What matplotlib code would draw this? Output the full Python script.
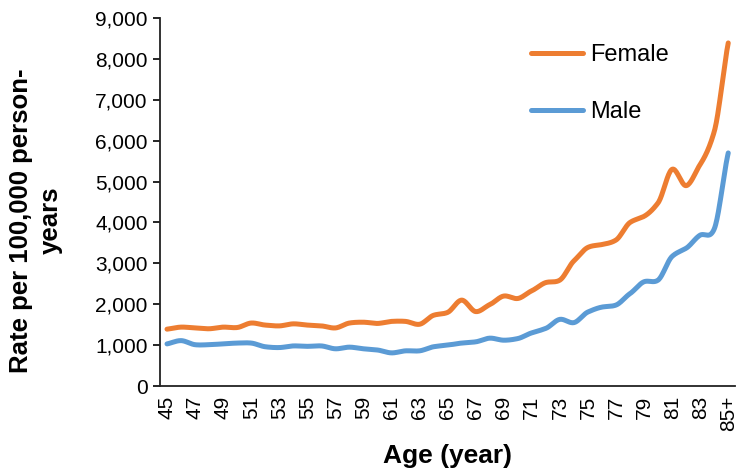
import numpy as np
import matplotlib
matplotlib.use("Agg")
import matplotlib.pyplot as plt
from matplotlib.ticker import FuncFormatter

plt.rcParams['font.family'] = ['Liberation Sans', 'DejaVu Sans']

ages = [str(a) for a in range(45, 85)] + ["85+"]
female = [1390, 1440, 1420, 1400, 1440, 1430, 1540, 1490, 1470, 1520,
          1490, 1470, 1420, 1540, 1560, 1530, 1580, 1580, 1510, 1730,
          1800, 2100, 1820, 1990, 2200, 2140, 2330, 2530, 2590, 3060,
          3390, 3460, 3570, 4000, 4150, 4480, 5300, 4900, 5420, 6220, 8390]
male = [1030, 1110, 1010, 1010, 1030, 1050, 1050, 960, 940, 980,
        970, 980, 910, 950, 910, 880, 810, 860, 860, 960,
        1000, 1050, 1080, 1170, 1120, 1160, 1300, 1410, 1630, 1550,
        1810, 1930, 1980, 2260, 2550, 2590, 3170, 3370, 3690, 3840, 5700]
series_names = ["Female", "Male"]
colors = ["#ED7D31", "#5B9BD5"]


def smooth(y, n=20):
    y = np.asarray(y, float)
    x = np.arange(len(y), dtype=float)
    p = np.concatenate([[2 * y[0] - y[1]], y, [2 * y[-1] - y[-2]]])
    xs, ys = [], []
    for i in range(len(y) - 1):
        p0, p1, p2, p3 = p[i], p[i + 1], p[i + 2], p[i + 3]
        t = np.linspace(0, 1, n, endpoint=False)
        m1 = (p2 - p0) / 2 * 0.8
        m2 = (p3 - p1) / 2 * 0.8
        h00 = 2 * t**3 - 3 * t**2 + 1
        h10 = t**3 - 2 * t**2 + t
        h01 = -2 * t**3 + 3 * t**2
        h11 = t**3 - t**2
        ys.append(h00 * p1 + h10 * m1 + h01 * p2 + h11 * m2)
        xs.append(x[i] + t)
    xs.append([x[-1]])
    ys.append([y[-1]])
    return np.concatenate(xs), np.concatenate(ys)


fig = plt.figure(figsize=(7.36, 4.74), dpi=100)
ax = fig.add_axes([160 / 736, 1 - 386 / 474, 1 - 160 / 736 - 0.001, (386 - 18) / 474])

for vals, name, c in zip([female, male], series_names, colors):
    xs, ys = smooth(vals)
    ax.plot(xs, ys, color=c, lw=3.6, label=name, solid_capstyle='round')

ax.set_xlim(-0.5, len(ages) - 0.5)
ax.set_ylim(0, 9000)
ax.set_yticks(np.arange(0, 9001, 1000))
ax.yaxis.set_major_formatter(FuncFormatter(lambda v, p: f"{int(v):,}"))
ax.set_xticks(np.arange(0, len(ages), 2))
ax.set_xticklabels(ages[::2], rotation=90)
ax.tick_params(axis='y', labelsize=15, length=5, width=1.2, direction='out', pad=4)
ax.tick_params(axis='x', labelsize=15, length=0, pad=7)
for s in ['top', 'right']:
    ax.spines[s].set_visible(False)
for s in ['left', 'bottom']:
    ax.spines[s].set_linewidth(1.3)
    ax.spines[s].set_color('#222222')

ax.set_xlabel("Age (year)", fontsize=19, fontweight='bold', labelpad=9)
ax.set_ylabel("Rate per 100,000 person-\nyears", fontsize=18.5, fontweight='bold',
              linespacing=1.3)
ax.yaxis.set_label_coords(-(160 - 63) / 576, 0.45)

leg = ax.legend(loc='upper left', bbox_to_anchor=((520 - 160) / 576, 1 - (32 - 18) / 368),
                frameon=False, fontsize=17, handlelength=2.2, labelspacing=1.5,
                handletextpad=0.3, borderpad=0)

fig.savefig("out.png", dpi=100)
